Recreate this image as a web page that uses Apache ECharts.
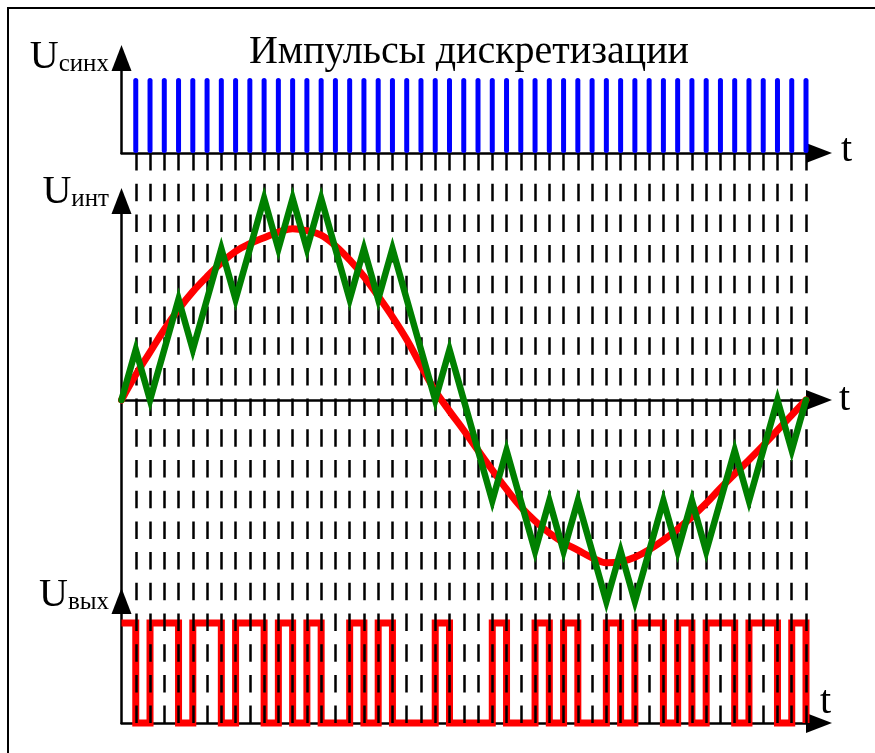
<!DOCTYPE html>
<html>
<head>
<meta charset="utf-8">
<script src="https://cdn.jsdelivr.net/npm/echarts@6/dist/echarts.min.js"></script>
<style>
  html, body { margin: 0; padding: 0; background: #ffffff; }
  #chart { width: 875px; height: 753px; }
</style>
</head>
<body>
<div id="chart"></div>
<script>
// Sampling instants (clock periods) shared by all three panels
const sampleTimes = [0, 1, 2, 3, 4, 5, 6, 7, 8, 9, 10, 11, 12, 13, 14, 15, 16, 17, 18, 19, 20,
  21, 22, 23, 24, 25, 26, 27, 28, 29, 30, 31, 32, 33, 34, 35, 36, 37, 38, 39, 40,
  41, 42, 43, 44, 45, 46, 47, 48];

// Sampling clock pulses, one per instant t = 1..48
const syncPulses = [1, 1, 1, 1, 1, 1, 1, 1, 1, 1, 1, 1, 1, 1, 1, 1, 1, 1, 1, 1, 1, 1, 1, 1,
  1, 1, 1, 1, 1, 1, 1, 1, 1, 1, 1, 1, 1, 1, 1, 1, 1, 1, 1, 1, 1, 1, 1, 1];

// Input signal (red curve) at each sampling instant, in integrator step units
const inputSignal = [0, 0.50, 0.95, 1.40, 1.80, 2.15, 2.45, 2.72, 2.95, 3.10,
  3.22, 3.33, 3.40, 3.36, 3.27, 3.06, 2.78, 2.45, 2.06, 1.65,
  1.20, 0.68, 0.18, -0.22, -0.60, -1.00, -1.39, -1.77, -2.12, -2.40,
  -2.64, -2.83, -2.98, -3.13, -3.23, -3.21, -3.12, -2.97, -2.78, -2.56,
  -2.32, -2.05, -1.75, -1.47, -1.19, -0.90, -0.60, -0.30, 0];

// Integrator output (green zigzag) at each sampling instant
const integratorOutput = [0, 1, 0, 1, 2, 1, 2, 3, 2, 3,
  4, 3, 4, 3, 4, 3, 2, 3, 2, 3,
  2, 1, 0, 1, 0, -1, -2, -1, -2, -3,
  -2, -3, -2, -3, -4, -3, -4, -3, -2, -3,
  -2, -3, -2, -1, -2, -1, 0, -1, 0];

// Output bit stream, one bit per clock period
const outputBits = [1, 0, 1, 1, 0, 1, 1, 0, 1, 1,
  0, 1, 0, 1, 0, 0, 1, 0, 1, 0,
  0, 0, 1, 0, 0, 0, 1, 0, 0, 1,
  0, 1, 0, 0, 1, 0, 1, 1, 0, 1,
  0, 1, 1, 0, 1, 1, 0, 1];

const SERIF = '"Liberation Serif", "Times New Roman", serif';
const BLACK = '#000000';

// Build series data from the arrays above
const pulseData = syncPulses.map((v, i) => [sampleTimes[i + 1], v]);
const inputData = inputSignal.map((v, i) => [sampleTimes[i], v]);
const integratorData = integratorOutput.map((v, i) => [sampleTimes[i], v]);
const bitData = outputBits.map((b, i) => [sampleTimes[i], b]);
const lastT = sampleTimes[sampleTimes.length - 1];
bitData.push([lastT, outputBits[outputBits.length - 1]]);
bitData.push([lastT, 0]);

const axisLineStyle = { color: BLACK, width: 2.5 };
const arrowAxisLine = {
  show: true,
  onZero: true,
  symbol: ['none', 'triangle'],
  symbolSize: [20, 26],
  symbolOffset: [0, 13],
  lineStyle: axisLineStyle
};

function xAxisFor(gridIndex, extra) {
  return Object.assign({
    type: 'value', gridIndex: gridIndex, min: 0, max: lastT,
    axisLine: arrowAxisLine,
    axisTick: { show: false }, axisLabel: { show: false }, splitLine: { show: false }
  }, extra || {});
}
function yAxisFor(gridIndex, min, max) {
  return {
    type: 'value', gridIndex: gridIndex, min: min, max: max,
    axisLine: arrowAxisLine,
    axisTick: { show: false }, axisLabel: { show: false }, splitLine: { show: false }
  };
}

// Axis caption: big "U" followed by a subscript
function uLabel(sub, right, bottom) {
  return {
    type: 'text', x: right, y: bottom, silent: true,
    style: {
      text: '{u|U}{s|' + sub + '}',
      align: 'right', verticalAlign: 'bottom',
      rich: {
        u: { fontSize: 40, fontFamily: SERIF, fill: BLACK, verticalAlign: 'bottom' },
        s: { fontSize: 25, fontFamily: SERIF, fill: BLACK, verticalAlign: 'bottom' }
      }
    }
  };
}
function tLabel(x, bottom) {
  return {
    type: 'text', x: x, y: bottom, silent: true,
    style: { text: 't', fontSize: 40, fontFamily: SERIF, fill: BLACK, align: 'left', verticalAlign: 'bottom' }
  };
}

const chart = echarts.init(document.getElementById('chart'), null, { renderer: 'canvas' });

const option = {
  backgroundColor: '#ffffff',
  animation: false,
  grid: [
    { left: 121.5, width: 684.5, top: 71, height: 82 },    // sampling pulses
    { left: 121.5, width: 684.5, top: 214, height: 398 },  // integrator
    { left: 121.5, width: 684.5, top: 614, height: 109 },  // output bits
    { left: 121.5, width: 684.5, top: 153, height: 570 }   // clock grid lines
  ],
  xAxis: [
    xAxisFor(0),
    xAxisFor(1),
    xAxisFor(2),
    {
      type: 'value', gridIndex: 3, min: 0, max: lastT, interval: 1, z: 3,
      axisLine: { show: false }, axisTick: { show: false }, axisLabel: { show: false },
      splitLine: {
        show: true, showMinLine: false,
        lineStyle: { color: BLACK, width: 2.5, type: [17.5, 13.2], cap: 'butt' }
      }
    }
  ],
  yAxis: [
    yAxisFor(0, 0, 82 / 75),
    yAxisFor(1, -212 / 50.4, 186 / 50.4),
    yAxisFor(2, 0, 109 / 100),
    { type: 'value', gridIndex: 3, min: 0, max: 1, show: false }
  ],
  series: [
    {
      name: 'Импульсы дискретизации', type: 'bar', xAxisIndex: 0, yAxisIndex: 0,
      data: pulseData, barWidth: 5, z: 2,
      itemStyle: { color: '#0000FF', borderRadius: 2.5 }
    },
    {
      name: 'Входной сигнал', type: 'line', xAxisIndex: 1, yAxisIndex: 1,
      data: inputData, smooth: 0.4, showSymbol: false, clip: false, z: 4,
      lineStyle: { color: '#FF0000', width: 7, cap: 'round', join: 'round' }
    },
    {
      name: 'Интегратор', type: 'line', xAxisIndex: 1, yAxisIndex: 1,
      data: integratorData, showSymbol: false, clip: false, z: 5,
      lineStyle: { color: '#008000', width: 6.5, cap: 'round', join: 'miter', miterLimit: 6 }
    },
    {
      name: 'Выход', type: 'line', xAxisIndex: 2, yAxisIndex: 2,
      data: bitData, step: 'end', showSymbol: false, clip: false, z: 1,
      lineStyle: { color: '#FF0000', width: 7, cap: 'butt', join: 'miter' }
    }
  ],
  graphic: [
    {
      type: 'rect', silent: true,
      shape: { x: 8, y: 8, width: 880, height: 760 },
      style: { fill: 'none', stroke: BLACK, lineWidth: 2 }
    },
    {
      type: 'text', x: 469, y: 72, silent: true,
      style: {
        text: 'Импульсы дискретизации', fontSize: 40, fontFamily: SERIF, fill: BLACK,
        align: 'center', verticalAlign: 'bottom'
      }
    },
    uLabel('синх', 109, 77),
    uLabel('инт', 109, 212),
    uLabel('вых', 109, 615),
    tLabel(841, 170),
    tLabel(839, 419),
    tLabel(820, 722)
  ]
};

chart.setOption(option);
</script>
</body>
</html>
